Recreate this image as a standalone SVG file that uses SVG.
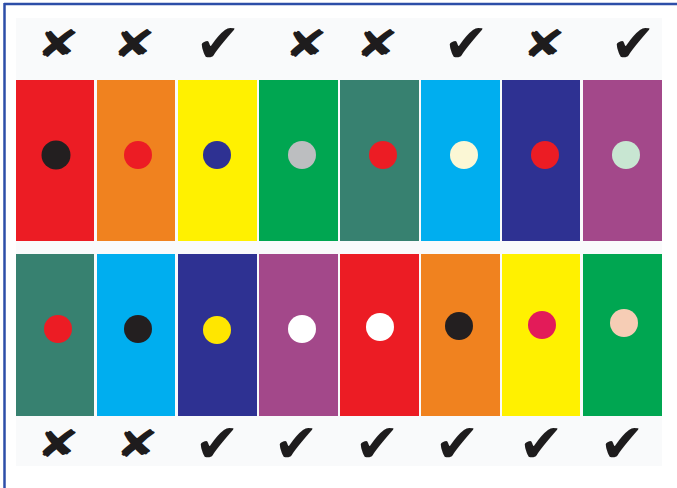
<svg xmlns="http://www.w3.org/2000/svg" width="677" height="488" viewBox="0 0 677 488">
<style>
.mk{font-family:"DejaVu Sans",sans-serif;fill:#1e1c1d;text-anchor:middle}
.ck{font-size:54px}
.x{font-size:42px}
</style>
<rect x="0" y="0" width="677" height="488" fill="#ffffff"/>
<rect x="16" y="18" width="646" height="448" fill="#f9fafb"/>
<line x1="4" y1="4" x2="677" y2="4" stroke="#2d4ea8" stroke-width="2.5"/>
<line x1="4.5" y1="3" x2="4.5" y2="488" stroke="#2d4ea8" stroke-width="2.5"/>
<g id="top-marks">
<text class="mk x" transform="translate(58 57) scale(1.25 0.9)">✘</text>
<text class="mk x" transform="translate(134 57) scale(1.25 0.9)">✘</text>
<text class="mk ck" x="218" y="62">✔</text>
<text class="mk x" transform="translate(306 57) scale(1.25 0.9)">✘</text>
<text class="mk x" transform="translate(377 57) scale(1.25 0.9)">✘</text>
<text class="mk ck" x="466" y="62">✔</text>
<text class="mk x" transform="translate(544 57) scale(1.25 0.9)">✘</text>
<text class="mk ck" x="633" y="62">✔</text>
</g>
<g id="row1">
<g id="c1"><rect x="16" y="80" width="78" height="161" fill="#ec1c24"/><circle cx="56" cy="155" r="14.5" fill="#231f20"/></g>
<g id="c2"><rect x="97" y="80" width="78" height="161" fill="#f0821f"/><circle cx="138" cy="155" r="14" fill="#ec1c24"/></g>
<g id="c3"><rect x="178" y="80" width="79" height="161" fill="#fff100"/><circle cx="217" cy="155" r="14" fill="#2e3192"/></g>
<g id="c4"><rect x="259" y="80" width="79" height="161" fill="#00a651"/><circle cx="302" cy="155" r="14" fill="#bcbec0"/></g>
<g id="c5"><rect x="340" y="80" width="79" height="161" fill="#378170"/><circle cx="383" cy="155" r="14" fill="#ec1c24"/></g>
<g id="c6"><rect x="421" y="80" width="79" height="161" fill="#00aeef"/><circle cx="464" cy="155" r="14" fill="#fbf7d5"/></g>
<g id="c7"><rect x="502" y="80" width="78" height="161" fill="#2e3192"/><circle cx="545" cy="155" r="14" fill="#ec1c24"/></g>
<g id="c8"><rect x="583" y="80" width="79" height="161" fill="#a3488a"/><circle cx="626" cy="155" r="14" fill="#c8e6d2"/></g>
</g>
<g id="row2">
<g id="d1"><rect x="16" y="254" width="78" height="162" fill="#378170"/><circle cx="58" cy="329" r="14" fill="#ec1c24"/></g>
<g id="d2"><rect x="97" y="254" width="78" height="162" fill="#00aeef"/><circle cx="138" cy="329" r="14" fill="#231f20"/></g>
<g id="d3"><rect x="178" y="254" width="79" height="162" fill="#2e3192"/><circle cx="217" cy="330" r="14" fill="#ffe600"/></g>
<g id="d4"><rect x="259" y="254" width="79" height="162" fill="#a3488a"/><circle cx="302" cy="329" r="14" fill="#ffffff"/></g>
<g id="d5"><rect x="340" y="254" width="79" height="162" fill="#ec1c24"/><circle cx="380" cy="327" r="14" fill="#ffffff"/></g>
<g id="d6"><rect x="421" y="254" width="79" height="162" fill="#f0821f"/><circle cx="459" cy="326" r="14" fill="#231f20"/></g>
<g id="d7"><rect x="502" y="254" width="78" height="162" fill="#fff100"/><circle cx="542" cy="325" r="14" fill="#e31b59"/></g>
<g id="d8"><rect x="583" y="254" width="79" height="162" fill="#00a651"/><circle cx="624" cy="323" r="14" fill="#f6cdb5"/></g>
</g>
<g id="bottom-marks">
<text class="mk x" transform="translate(58 457) scale(1.25 0.9)">✘</text>
<text class="mk x" transform="translate(137 457) scale(1.25 0.9)">✘</text>
<text class="mk ck" x="217" y="462">✔</text>
<text class="mk ck" x="296" y="462">✔</text>
<text class="mk ck" x="377" y="462">✔</text>
<text class="mk ck" x="457" y="462">✔</text>
<text class="mk ck" x="541" y="462">✔</text>
<text class="mk ck" x="622" y="462">✔</text>
</g>
</svg>
